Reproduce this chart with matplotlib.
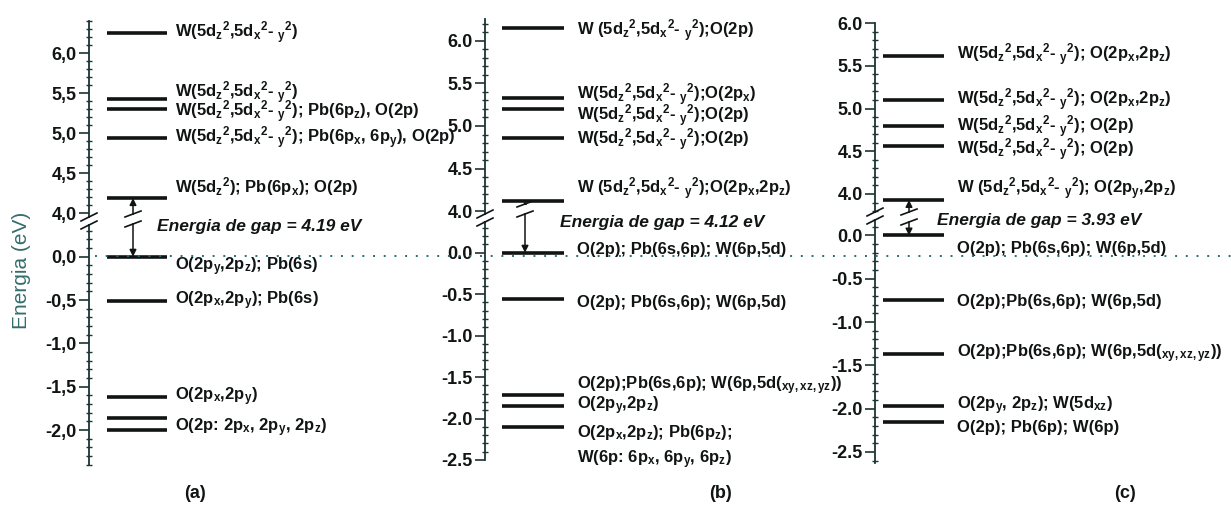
import matplotlib
matplotlib.use('Agg')
import matplotlib.pyplot as plt
from matplotlib.lines import Line2D
from matplotlib.patches import Rectangle, ConnectionPatch
from matplotlib.ticker import MultipleLocator, FuncFormatter

plt.rcParams['font.family'] = ['Liberation Sans', 'DejaVu Sans']
plt.rcParams['mathtext.default'] = 'regular'

# ---------------------------------------------------------------- data
panel_tags = ['(a)', '(b)', '(c)']
gap_values = [4.19, 4.12, 3.93]          # conduction-band minimum (eV), VBM = 0

W_DD = r'W(5d$_{z}$$^{2}$,5d$_{x}$$^{2}$- $_{y}$$^{2}$)'
W_DD_SP = r'W (5d$_{z}$$^{2}$,5d$_{x}$$^{2}$- $_{y}$$^{2}$)'

# (a)
cond_levels_a = [6.26, 5.425, 5.31, 4.94]
cond_labels_a = [
    W_DD,
    W_DD,
    W_DD + r'; Pb(6p$_{z}$), O(2p)',
    W_DD + r'; Pb(6p$_{x}$, 6p$_{y}$), O(2p)',
]
cbm_label_a = r'W(5d$_{z}$$^{2}$); Pb(6p$_{x}$); O(2p)'
val_levels_a = [0.0, -0.51, -1.615, -1.865, -2.0]
val_labels_a = [
    r'O(2p$_{y}$,2p$_{z}$); Pb(6s)',
    r'O(2p$_{x}$,2p$_{y}$); Pb(6s)',
    r'O(2p$_{x}$,2p$_{y}$)',
    '',
    r'O(2p: 2p$_{x}$, 2p$_{y}$, 2p$_{z}$)',
]

# (b)
cond_levels_b = [6.145, 5.325, 5.195, 4.856]
cond_labels_b = [
    W_DD_SP + ';O(2p)',
    W_DD + r';O(2p$_{x}$)',
    W_DD + ';O(2p)',
    W_DD + ';O(2p)',
]
cbm_label_b = W_DD_SP + r';O(2p$_{x}$,2p$_{z}$)'
val_levels_b = [0.0, -0.56, -1.72, -1.85, -2.10]
val_labels_b = [
    'O(2p); Pb(6s,6p); W(6p,5d)',
    'O(2p); Pb(6s,6p); W(6p,5d)',
    r'O(2p);Pb(6s,6p); W(6p,5d($_{xy,xz,yz}$))',
    r'O(2p$_{y}$,2p$_{z}$)',
    r'O(2p$_{x}$,2p$_{z}$); Pb(6p$_{z}$);' + '\n' + r'W(6p: 6p$_{x}$, 6p$_{y}$, 6p$_{z}$)',
]

# (c)
cond_levels_c = [5.61, 5.10, 4.79, 4.56]
cond_labels_c = [
    W_DD + r'; O(2p$_{x}$,2p$_{z}$)',
    W_DD + r'; O(2p$_{x}$,2p$_{z}$)',
    W_DD + '; O(2p)',
    W_DD + '; O(2p)',
]
cbm_label_c = W_DD_SP + r'; O(2p$_{y}$,2p$_{z}$)'
val_levels_c = [0.0, -0.74, -1.37, -1.97, -2.155]
val_labels_c = [
    'O(2p); Pb(6s,6p); W(6p,5d)',
    'O(2p);Pb(6s,6p); W(6p,5d)',
    r'O(2p);Pb(6s,6p); W(6p,5d($_{xy,xz,yz}$))',
    r'O(2p$_{y}$, 2p$_{z}$); W(5d$_{xz}$)',
    'O(2p); Pb(6p); W(6p)',
]

decimal_marks = [',', '.', '.']

# ---------------------------------------------------------------- layout
W, H = 1231, 511
fig = plt.figure(figsize=(W / 100, H / 100), dpi=100)
fig.patch.set_facecolor('white')

INK = '#111414'
SPINE = '#1c3434'


def fx(px):
    return px / W


def fy(py):
    return 1 - py / H


def add_px_axes(left, top, width, height):
    return fig.add_axes([left / W, 1 - (top + height) / H, width / W, height / H])


# spine x, upper block (ylim, ref value, ref px, px per eV), lower block (same)
layouts = [
    dict(x=89, width=330,
         up=((3.875, 6.4), 6.0, 53.3, 80.0),
         lo=((-2.4, 0.385), 0.0, 256.7, 86.7),
         line=(18, 78), text_x=86, arrow_x=44,
         cond_shift=[0.0, 0.08, -0.035, 0.0], cbm_shift=0.14,
         val_shift=[-0.12, 0.0, 0.0, 0.0, 0.025],
         gap_text=(157, 226), arrow_break=219, spine_break=221),
    dict(x=485, width=340,
         up=((3.88, 6.25), 6.0, 40.7, 85.3),
         lo=((-2.5, 0.373), 0.0, 252.7, 82.9),
         line=(17, 79), text_x=92, arrow_x=40,
         cond_shift=[-0.03, 0.045, -0.07, -0.02], cbm_shift=0.15,
         val_shift=[0.04, -0.04, 0.12, 0.0, -0.245],
         gap_text=(560, 222), arrow_break=209, spine_break=218),
    dict(x=875, width=356,
         up=((3.75, 6.0), 6.0, 23.0, 85.5),
         lo=((-2.63, 0.23), 0.0, 235.5, 86.6),
         line=(8, 69), text_x=82, arrow_x=34,
         cond_shift=[0.02, 0.0, 0.0, -0.04], cbm_shift=0.13,
         val_shift=[-0.15, -0.02, 0.0, 0.0, -0.06],
         gap_text=(937, 220), arrow_break=217, spine_break=216),
]

panels = [
    (cond_levels_a, cond_labels_a, cbm_label_a, val_levels_a, val_labels_a),
    (cond_levels_b, cond_labels_b, cbm_label_b, val_levels_b, val_labels_b),
    (cond_levels_c, cond_labels_c, cbm_label_c, val_levels_c, val_labels_c),
]

TEXT_KW = dict(fontsize=12, fontweight='bold', color=INK, va='center', ha='left')


def style_axis(ax, ylim, mark):
    ax.set_ylim(*ylim)
    for side in ('top', 'right', 'bottom'):
        ax.spines[side].set_visible(False)
    ax.spines['left'].set_color(SPINE)
    ax.spines['left'].set_linewidth(1.3)
    ax.set_xticks([])
    ax.patch.set_alpha(0)
    ax.yaxis.set_major_locator(MultipleLocator(0.5))
    ax.yaxis.set_minor_locator(MultipleLocator(0.1))
    ax.yaxis.set_major_formatter(
        FuncFormatter(lambda v, p: f'{v:.1f}'.replace('.', mark).replace('\u2212', '-')))
    ax.tick_params(axis='y', which='major', direction='out', length=7, width=1.2,
                   color=SPINE, labelsize=13, pad=2)
    ax.tick_params(axis='y', which='minor', direction='inout', length=5, width=1.0,
                   color=SPINE)
    for lab in ax.get_yticklabels():
        lab.set_fontweight('bold')
        lab.set_color(INK)


def block(ax_spec, x0, width):
    ylim, ref_v, ref_px, scale = ax_spec
    top = ref_px - (ylim[1] - ref_v) * scale
    height = (ylim[1] - ylim[0]) * scale
    return add_px_axes(x0, top, width, height), ylim


def break_marks(cx, cy, half_w, half_h, sep, lw=1.2):
    fig.add_artist(Rectangle((fx(cx - 4), fy(cy + sep - 1)), 8 / W, (2 * sep - 2) / H,
                             transform=fig.transFigure, facecolor='white',
                             edgecolor='none', zorder=8))
    for d in (-sep, sep):
        fig.add_artist(Line2D([fx(cx - half_w), fx(cx + half_w)],
                              [fy(cy + d + half_h), fy(cy + d - half_h)],
                              transform=fig.transFigure, color=INK, lw=lw, zorder=9))


for i, (lay, data) in enumerate(zip(layouts, panels)):
    cond_levels, cond_labels, cbm_label, val_levels, val_labels = data
    gap = gap_values[i]
    ax_up, ylim_up = block(lay['up'], lay['x'], lay['width'])
    ax_lo, ylim_lo = block(lay['lo'], lay['x'], lay['width'])
    for ax, yl in ((ax_up, ylim_up), (ax_lo, ylim_lo)):
        ax.set_xlim(0, lay['width'])
        style_axis(ax, yl, decimal_marks[i])

    x_a, x_b = lay['line']
    tx = lay['text_x']

    # conduction-side levels
    for lev, lab, sh in zip(cond_levels, cond_labels, lay['cond_shift']):
        ax_up.hlines(lev, x_a, x_b, color=INK, lw=2.6)
        ax_up.text(tx, lev + sh, lab, clip_on=False, **TEXT_KW)
    ax_up.hlines(gap, x_a, x_b, color=INK, lw=2.6)
    ax_up.text(tx, gap + lay['cbm_shift'], cbm_label, clip_on=False, **TEXT_KW)

    # valence-side levels
    for lev, lab, sh in zip(val_levels, val_labels, lay['val_shift']):
        ax_lo.hlines(lev, x_a, x_b, color=INK, lw=2.6)
        if lab:
            ax_lo.text(tx, lev + sh, lab, clip_on=False, linespacing=1.45, **TEXT_KW)

    # band-gap arrow spanning the axis break
    con = ConnectionPatch(xyA=(lay['arrow_x'], gap), coordsA=ax_up.transData,
                          xyB=(lay['arrow_x'], val_levels[0]), coordsB=ax_lo.transData,
                          arrowstyle='<|-|>', mutation_scale=10, lw=1.1, color=INK,
                          zorder=7)
    fig.add_artist(con)
    break_marks(lay['x'] + lay['arrow_x'], lay['arrow_break'], 8, 3, 5)
    break_marks(lay['x'], lay['spine_break'], 8, 4, 4)

    gx, gy = lay['gap_text']
    fig.text(fx(gx), fy(gy), f'Energia de gap = {gap:.2f} eV', fontsize=12.5,
             fontweight='bold', fontstyle='italic', color=INK, va='center', ha='left')

# Fermi reference (top of the valence band)
fig.add_artist(Line2D([fx(95), fx(1231)], [fy(256), fy(256)], transform=fig.transFigure,
                      color='#2d6e6e', lw=1.4, ls=(0, (1, 4.5)), zorder=3))

for tag, x in zip(panel_tags, [195, 720, 1125]):
    fig.text(fx(x), fy(494), tag, fontsize=13, fontweight='bold', color=INK,
             ha='center', va='center')

fig.text(fx(22), fy(270), 'Energia (eV)', rotation=90, fontsize=15, color='#356d6d',
         ha='center', va='center')

fig.savefig('out.png', dpi=100, facecolor='white')
